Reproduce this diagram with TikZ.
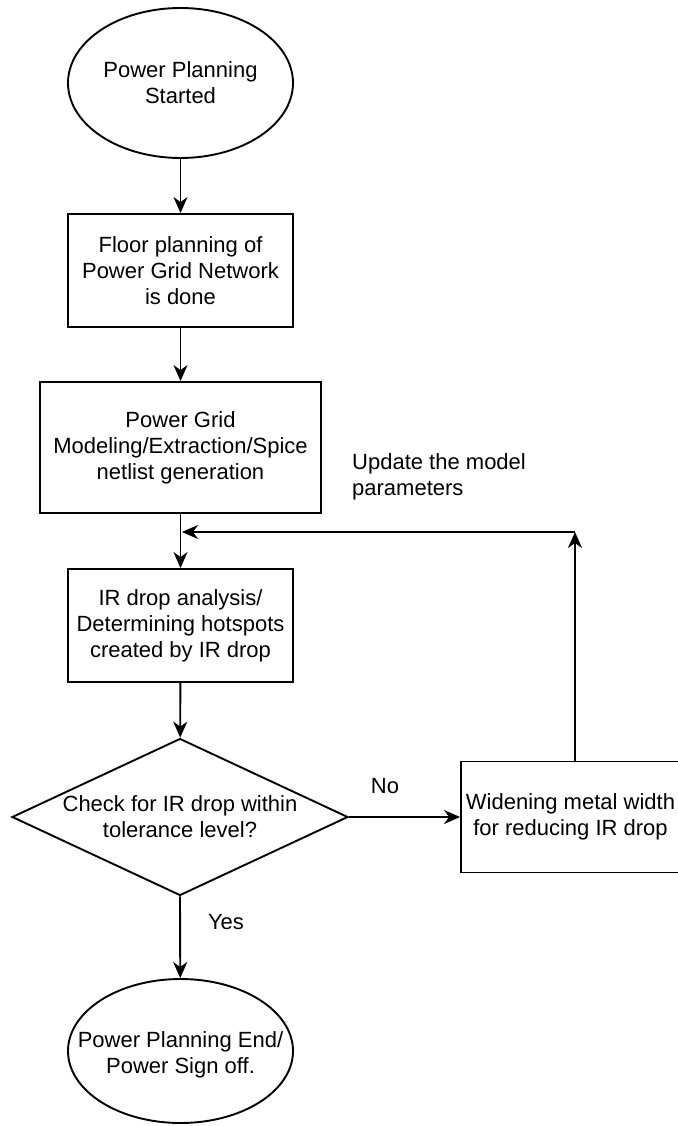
\documentclass[tikz,border=0pt]{standalone}
\usepackage{fontspec}
\setmainfont{Liberation Sans}
\usetikzlibrary{arrows.meta,shapes.geometric}
\begin{document}
\begin{tikzpicture}[x=1pt,y=-1pt,
  every node/.style={font=\fontsize{22}{26}\selectfont},
  line/.style={line width=1.9pt},
  flow/.style={line, -{Stealth[length=16pt,width=14pt,inset=5pt]}},
  term/.style={draw, line width=1.9pt, ellipse, inner sep=0pt,
    minimum width=225pt, minimum height=#1},
  procbox/.style={draw, line width=1.9pt, rectangle, align=center, inner sep=2pt},
  decision/.style={draw, line width=1.9pt, diamond, inner sep=0pt, aspect=2.14,
    minimum width=336pt, minimum height=157pt},
  txt/.style={align=center, inner sep=0pt},
  lbl/.style={inner sep=0pt}
]
\useasboundingbox (0,0) rectangle (677,1126);

% start terminal
\node[term=150pt] (start) at (180.5,83) {};
\node[txt] (starttext) at (start) {Power Planning\\Started};

% process steps
\node[procbox, minimum width=225pt, minimum height=113pt] (floor) at (180.5,270.5)
  {Floor planning of\\Power Grid Network\\is done};
\node[procbox, minimum width=281pt, minimum height=131pt] (model) at (180.5,447.5)
  {Power Grid\\Modeling/Extraction/Spice\\netlist generation};
\node[procbox, minimum width=225pt, minimum height=113pt] (irdrop) at (180.5,625.5)
  {IR drop analysis/\\Determining hotspots\\created by IR drop};

% decision
\node[decision] (check) at (180,817) {};
\node[txt] (checktext) at (check) {Check for IR drop within\\tolerance level?};

% corrective step (its right side runs past the page edge)
\node[procbox, minimum width=228pt, minimum height=111pt] (widen) at (575,817) {};
\node[txt] (widentext) at (570.5,817) {Widening metal width\\for reducing IR drop};

% end terminal
\node[term=144pt] (stop) at (180.5,1051) {};
\node[txt] (stoptext) at (180.5,1055) {Power Planning End/\\Power Sign off.};

% main flow
\draw[flow] (start) -- (floor);
\draw[flow] (floor) -- (model);
\draw[flow] (model) -- (irdrop);
\draw[flow] (irdrop) -- (check);
\draw[flow] (check.south) -- (stop);
\draw[flow] (check.east) -- (widen.west);

% feedback loop
\coordinate (corner) at (575,532);
\coordinate (join) at (182,532);
\draw[flow] (widen.north) -- (corner);
\draw[flow] (corner) -- (join);

% edge labels
\node[lbl] (nolbl) at (385,786) {No};
\node[lbl] (yeslbl) at (226,922) {Yes};
\node[lbl, anchor=west, align=left] (updlbl) at (352,477) {Update the model\\parameters};
\end{tikzpicture}
\end{document}
